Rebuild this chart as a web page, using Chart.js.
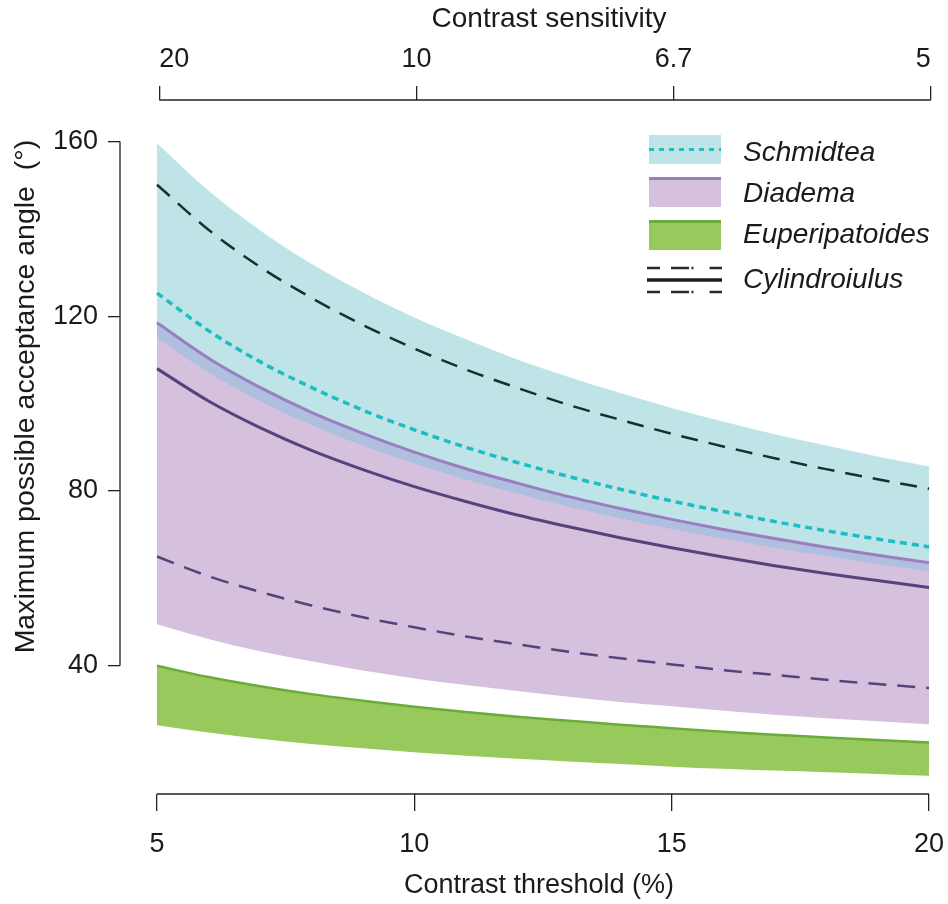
<!DOCTYPE html>
<html><head><meta charset="utf-8">
<script src="https://cdn.jsdelivr.net/npm/chart.js@4.4.1/dist/chart.umd.min.js"></script>
<style>html,body{margin:0;padding:0;background:#fff;} #wrap{width:948px;height:904px;position:relative;}</style>
</head><body><div id="wrap"><canvas id="c" width="948" height="904"></canvas></div>
<script>
// ---- data ----
const contrastThreshold = [5,6,7,8,9,10,11,12,13,14,15,16,17,18,19,20];
const schmidteaUpper = [159.6,148.7,139.7,132.0,125.5,119.7,114.7,110.1,106.1,102.4,99.0,95.9,93.0,90.4,87.9,85.6];
const schmidteaLower = [115.0,107.1,100.6,95.1,90.4,86.3,82.6,79.4,76.4,73.7,71.3,69.1,67.0,65.1,63.3,61.7];
const schmidteaMid   = [125.3,116.7,109.6,103.7,98.5,94.0,90.0,86.5,83.3,80.4,77.7,75.3,73.0,70.9,69.0,67.2];
const diademaUpper   = [118.5,110.4,103.7,98.0,93.2,88.9,85.1,81.8,78.7,76.0,73.5,71.2,69.1,67.1,65.3,63.6];
const diademaLower   = [49.5,46.1,43.3,41.0,38.9,37.1,35.6,34.2,32.9,31.7,30.7,29.7,28.8,28.0,27.3,26.6];
const euperUpper     = [40.0,37.4,35.3,33.5,32.0,30.6,29.4,28.3,27.4,26.5,25.7,24.9,24.2,23.6,23.0,22.4];
const euperLower     = [26.4,24.7,23.3,22.1,21.1,20.2,19.4,18.7,18.1,17.5,16.9,16.4,16.0,15.6,15.2,14.8];
const cylUpper       = [150.1,139.8,131.3,124.2,118.0,112.6,107.8,103.6,99.7,96.3,93.1,90.2,87.5,85.0,82.7,80.5];
const cylMid         = [108.0,100.6,94.5,89.3,84.9,81.0,77.6,74.5,71.8,69.3,67.0,64.9,62.9,61.1,59.5,57.9];
const cylLower       = [65.0,60.5,56.9,53.8,51.1,48.8,46.7,44.9,43.2,41.7,40.3,39.0,37.9,36.8,35.8,34.9];
const xTicks = [5,10,15,20];
const sensitivityLabels = ['20','10','6.7','5'];
const yTicks = [40,80,120,160];
const legendNames = ['Schmidtea','Diadema','Euperipatoides','Cylindroiulus'];

const FONT = '"Liberation Sans", Arial, Helvetica, sans-serif';
const TXT = '#1a1a1a';
const COL = {
  cyan:'#bfe4e7', cyanLine:'#1fbcc2', purple:'#d5c1dd', purpleLine:'#9a7ec0',
  overlap:'#aebfe0', green:'#97c95c', greenLine:'#6aac3a', dark:'#17302f', darkPurple:'#56427d'
};

function xy(arr){ return arr.map((v,i)=>({x: contrastThreshold[i], y: v})); }
const base = {pointRadius:0, pointHoverRadius:0, cubicInterpolationMode:'monotone', fill:false};
const fillBase = Object.assign({}, base, {borderColor:'rgba(0,0,0,0)', borderWidth:0});

const datasets = [
  Object.assign({}, base, {label:'cylUpper', data:xy(cylUpper), borderColor:COL.dark, borderWidth:2.5, borderDash:[17,11]}),
  Object.assign({}, base, {label:'schMid', data:xy(schmidteaMid), borderColor:COL.cyanLine, borderWidth:3.5, borderDash:[7,5]}),
  Object.assign({}, base, {label:'diaUpperLine', data:xy(diademaUpper), borderColor:COL.purpleLine, borderWidth:3}),
  Object.assign({}, base, {label:'cylMid', data:xy(cylMid), borderColor:COL.darkPurple, borderWidth:3}),
  Object.assign({}, base, {label:'cylLower', data:xy(cylLower), borderColor:COL.darkPurple, borderWidth:2.5, borderDash:[18,11]}),
  Object.assign({}, base, {label:'euUpperLine', data:xy(euperUpper), borderColor:COL.greenLine, borderWidth:2.5}),
  Object.assign({}, fillBase, {label:'overlap', data:xy(diademaUpper), fill:{target:7}, backgroundColor:COL.overlap}),
  Object.assign({}, fillBase, {label:'schLower', data:xy(schmidteaLower)}),
  Object.assign({}, fillBase, {label:'diaBand', data:xy(diademaUpper), fill:{target:9}, backgroundColor:COL.purple}),
  Object.assign({}, fillBase, {label:'diaLower', data:xy(diademaLower)}),
  Object.assign({}, fillBase, {label:'schBand', data:xy(schmidteaUpper), fill:{target:7}, backgroundColor:COL.cyan}),
  Object.assign({}, fillBase, {label:'euBand', data:xy(euperUpper), fill:{target:12}, backgroundColor:COL.green}),
  Object.assign({}, fillBase, {label:'euLower', data:xy(euperLower)})
];

function line(ctx,x0,y0,x1,y1){ctx.beginPath();ctx.moveTo(x0,y0);ctx.lineTo(x1,y1);ctx.stroke();}

const axisPlugin = {
  id:'rAxes',
  afterDraw(chart){
    const {ctx} = chart; const x = chart.scales.x, x2 = chart.scales.x2, y = chart.scales.y;
    ctx.save();
    ctx.strokeStyle = '#222'; ctx.lineWidth = 1.3; ctx.setLineDash([]);
    const bx0 = x.getPixelForValue(xTicks[0]), bx1 = x.getPixelForValue(xTicks[xTicks.length-1]);
    line(ctx, bx0, chart.chartArea.bottom, bx1, chart.chartArea.bottom);
    const tx0 = x2.getPixelForValue(xTicks[0]), tx1 = x2.getPixelForValue(xTicks[xTicks.length-1]);
    line(ctx, tx0, chart.chartArea.top, tx1, chart.chartArea.top);
    const y0 = y.getPixelForValue(yTicks[0]), y1 = y.getPixelForValue(yTicks[yTicks.length-1]);
    line(ctx, chart.chartArea.left, y0, chart.chartArea.left, y1);
    // titles
    ctx.fillStyle = TXT; ctx.textAlign='center'; ctx.textBaseline='middle';
    ctx.font = '27px ' + FONT;
    ctx.fillText('Contrast threshold (%)', (bx0+bx1)/2 - 4, 886);
    ctx.font = '28px ' + FONT;
    ctx.fillText('Contrast sensitivity', (tx0+tx1)/2 + 4, 19);
    ctx.font = '28.5px ' + FONT;
    ctx.save(); ctx.translate(26, (y0+y1)/2 - 7); ctx.rotate(-Math.PI/2);
    ctx.fillText('Maximum possible acceptance angle  (°)', 0, 0); ctx.restore();
    // legend
    const lx = 649, lw = 72;
    ctx.fillStyle = COL.cyan; ctx.fillRect(lx,135,lw,29);
    ctx.strokeStyle = COL.cyanLine; ctx.lineWidth = 3; ctx.setLineDash([5,5]); line(ctx,lx,149.5,lx+lw,149.5);
    ctx.setLineDash([]);
    ctx.fillStyle = COL.purple; ctx.fillRect(lx,177,lw,30);
    ctx.strokeStyle = COL.purpleLine; ctx.lineWidth = 3; line(ctx,lx,178.5,lx+lw,178.5);
    ctx.fillStyle = COL.green; ctx.fillRect(lx,220,lw,30);
    ctx.strokeStyle = COL.greenLine; ctx.lineWidth = 3; line(ctx,lx,221.5,lx+lw,221.5);
    ctx.strokeStyle = '#2a2a2a'; ctx.lineWidth = 2.5; ctx.setLineDash([13,11,18,2.5,2,16,13]);
    line(ctx,647,268,722,268); line(ctx,647,292,722,292);
    ctx.setLineDash([]); ctx.lineWidth = 3.3; ctx.strokeStyle='#1e1e1e'; line(ctx,647,280,722,280);
    ctx.fillStyle = TXT; ctx.font = 'italic 28px ' + FONT; ctx.textAlign='left'; ctx.textBaseline='alphabetic';
    const base = [161,202,243,288];
    legendNames.forEach((n,i)=>ctx.fillText(n, 743, base[i]));
    ctx.restore();
  }
};

const tickFont = {family:FONT, size:27};
function noPad(s){ s.paddingLeft = 0; s.paddingRight = 0; }
new Chart(document.getElementById('c'), {
  type:'line',
  data:{datasets},
  options:{
    responsive:false, animation:false, devicePixelRatio:1,
    layout:{padding:{left:0,right:4,top:0,bottom:0}, autoPadding:false},
    plugins:{legend:{display:false}, tooltip:{enabled:false}, filler:{drawTime:'beforeDatasetsDraw', propagate:false}},
    scales:{
      x:{type:'linear', position:'bottom', min:4.281, max:20.291,
         afterBuildTicks:s=>{s.ticks = xTicks.map(v=>({value:v}));},
         afterFit:s=>{s.height = 110; noPad(s);},
         grid:{display:true, drawOnChartArea:false, drawTicks:true, tickLength:17, color:'#222', lineWidth:1.3},
         border:{display:false},
         ticks:{font:tickFont, color:TXT, padding:17, maxRotation:0, autoSkip:false, callback:v=>String(v)}},
      x2:{type:'linear', position:'top', min:4.235, max:20.258,
         afterBuildTicks:s=>{s.ticks = xTicks.map(v=>({value:v}));},
         afterFit:s=>{s.height = 100; noPad(s);},
         grid:{display:true, drawOnChartArea:false, drawTicks:true, tickLength:14, color:'#222', lineWidth:1.3},
         border:{display:false},
         ticks:{font:tickFont, color:TXT, padding:10, maxRotation:0, autoSkip:false, align:'inner',
                callback:v=>sensitivityLabels[xTicks.indexOf(v)]}},
      y:{type:'linear', position:'left', min:10.64, max:169.49,
         afterBuildTicks:s=>{s.ticks = yTicks.map(v=>({value:v}));},
         afterFit:s=>{s.width = 120; s.paddingTop = 0; s.paddingBottom = 0;},
         grid:{display:true, drawOnChartArea:false, drawTicks:true, tickLength:12, color:'#222', lineWidth:1.3},
         border:{display:false},
         ticks:{font:tickFont, color:TXT, padding:10, autoSkip:false, callback:v=>String(v)}}
    }
  },
  plugins:[axisPlugin]
});
</script></body></html>
